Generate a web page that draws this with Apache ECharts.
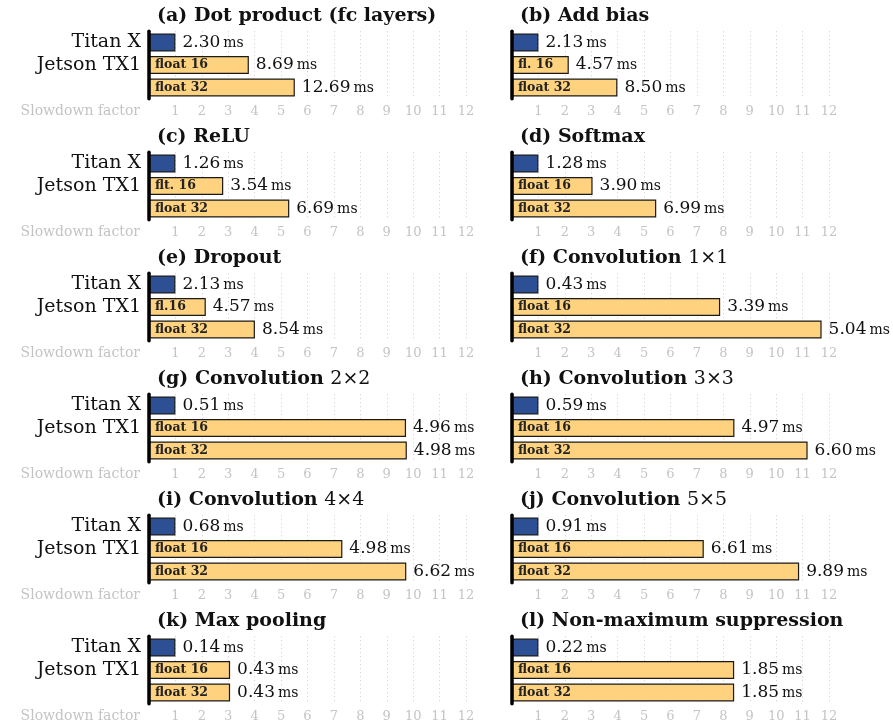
<!DOCTYPE html>
<html><head><meta charset="utf-8">
<script src="https://cdn.jsdelivr.net/npm/echarts@6/dist/echarts.min.js"></script>
<style>html,body{margin:0;padding:0;background:#fff}#c{width:893px;height:723px}</style>
</head><body><div id="c"></div>
<script>
// ---- data ----
const titleMain = ['(a) Dot product (fc layers)', '(b) Add bias', '(c) ReLU', '(d) Softmax', '(e) Dropout',
  '(f) Convolution ', '(g) Convolution ', '(h) Convolution ', '(i) Convolution ', '(j) Convolution ',
  '(k) Max pooling', '(l) Non-maximum suppression'];
const titleMath = ['', '', '', '', '', '1×1', '2×2', '3×3', '4×4', '5×5', '', ''];
const devices = ['Titan X', 'Jetson TX1', ''];
const msTitan = [2.30, 2.13, 1.26, 1.28, 2.13, 0.43, 0.51, 0.59, 0.68, 0.91, 0.14, 0.22];
const msF16   = [8.69, 4.57, 3.54, 3.90, 4.57, 3.39, 4.96, 4.97, 4.98, 6.61, 0.43, 1.85];
const msF32   = [12.69, 8.50, 6.69, 6.99, 8.54, 5.04, 4.98, 6.60, 6.62, 9.89, 0.43, 1.85];
const slowTitan = [1, 1, 1, 1, 1, 1, 1, 1, 1, 1, 1, 1];
const slowF16 = [3.78, 2.15, 2.81, 3.05, 2.15, 7.88, 9.73, 8.42, 7.32, 7.26, 3.07, 8.41];
const slowF32 = [5.52, 3.99, 5.31, 5.46, 4.01, 11.72, 9.76, 11.19, 9.74, 10.87, 3.07, 8.41];
const f16Names = ['float 16', 'fl. 16', 'flt. 16', 'float 16', 'fl.16', 'float 16',
  'float 16', 'float 16', 'float 16', 'float 16', 'float 16', 'float 16'];
const f32Names = ['float 32', 'float 32', 'float 32', 'float 32', 'float 32', 'float 32',
  'float 32', 'float 32', 'float 32', 'float 32', 'float 32', 'float 32'];
const axisName = 'Slowdown factor';
const xMin = 0, xMax = 12, xStep = 1;

// ---- style ----
const SERIF = "'DejaVu Serif', serif";
const BLUE = '#2d4f94', ORANGE = '#fed27f', EDGE = '#1a1a1a', GRAY = '#c4c4c4';

const chart = echarts.init(document.getElementById('c'), null, {renderer: 'canvas'});
const grids = [], xAxes = [], yAxes = [], series = [], titles = [], graphics = [];
for (let i = 0; i < 12; i++) {
  const col = i % 2, row = Math.floor(i / 2);
  const left = col === 0 ? 149 : 512;
  const top = 31.25 + 121 * row;
  const height = 67.5;
  grids.push({left: left, top: top, width: 317, height: height});
  titles.push({
    left: left + 8, top: top - 25.5, padding: 0,
    text: titleMath[i] ? '{b|' + titleMain[i] + '}{n|' + titleMath[i] + '}' : '{b|' + titleMain[i] + '}',
    textStyle: {rich: {
      b: {fontFamily: SERIF, fontWeight: 'bold', fontSize: 19, color: '#111', lineHeight: 20},
      n: {fontFamily: SERIF, fontWeight: 'normal', fontSize: 19, color: '#111', lineHeight: 20}
    }}
  });
  if (col === 0) {
    graphics.push({
      type: 'text', x: left - 9, y: top + height + 12.5, silent: true,
      style: {text: axisName, fill: GRAY, font: "14px 'DejaVu Serif', serif", align: 'right', verticalAlign: 'middle'}
    });
  }
  xAxes.push({
    gridIndex: i, type: 'value', min: xMin, max: xMax, interval: xStep,
    axisLine: {show: false}, axisTick: {show: false},
    splitLine: {show: true, lineStyle: {color: '#cccccc', type: [1, 3], width: 1}},
    axisLabel: {color: GRAY, fontFamily: SERIF, fontSize: 13, margin: 6,
      formatter: v => v === 0 ? '' : String(v)}
  });
  yAxes.push({
    gridIndex: i, type: 'category', inverse: true, data: devices, z: 5,
    axisLine: {show: true, onZero: false, lineStyle: {color: '#000', width: 3.5}},
    axisTick: {show: false}, splitLine: {show: false},
    axisLabel: {show: col === 0, interval: 0, color: '#111', fontFamily: SERIF, fontSize: 19, margin: 8}
  });
  const ms = [msTitan[i], msF16[i], msF32[i]];
  const names = ['', f16Names[i], f32Names[i]];
  series.push({
    type: 'bar', xAxisIndex: i, yAxisIndex: i, barWidth: 18, barGap: '-100%',
    data: [
      {value: slowTitan[i], itemStyle: {color: BLUE}},
      {value: slowF16[i], itemStyle: {color: ORANGE}},
      {value: slowF32[i], itemStyle: {color: ORANGE}}
    ],
    itemStyle: {borderColor: EDGE, borderWidth: 1.2},
    label: {
      show: true, position: 'right', distance: 7,
      formatter: p => '{v|' + ms[p.dataIndex].toFixed(2) + '}{u|ms}',
      rich: {
        v: {fontFamily: SERIF, fontSize: 17, color: '#111', verticalAlign: 'bottom'},
        u: {fontFamily: SERIF, fontSize: 14, color: '#111', padding: [0, 0, 1, 3], verticalAlign: 'bottom'}
      }
    }
  });
  series.push({
    type: 'bar', xAxisIndex: i, yAxisIndex: i, barWidth: 18, barGap: '-100%', silent: true,
    data: [slowTitan[i], slowF16[i], slowF32[i]],
    itemStyle: {color: 'rgba(0,0,0,0)', borderWidth: 0},
    label: {
      show: true, position: 'insideLeft', distance: 6,
      formatter: p => names[p.dataIndex],
      fontFamily: SERIF, fontSize: 12.5, fontWeight: 'bold', color: '#222'
    }
  });
}
chart.setOption({animation: false, title: titles, grid: grids, xAxis: xAxes, yAxis: yAxes, series: series, graphic: graphics});
</script></body></html>
